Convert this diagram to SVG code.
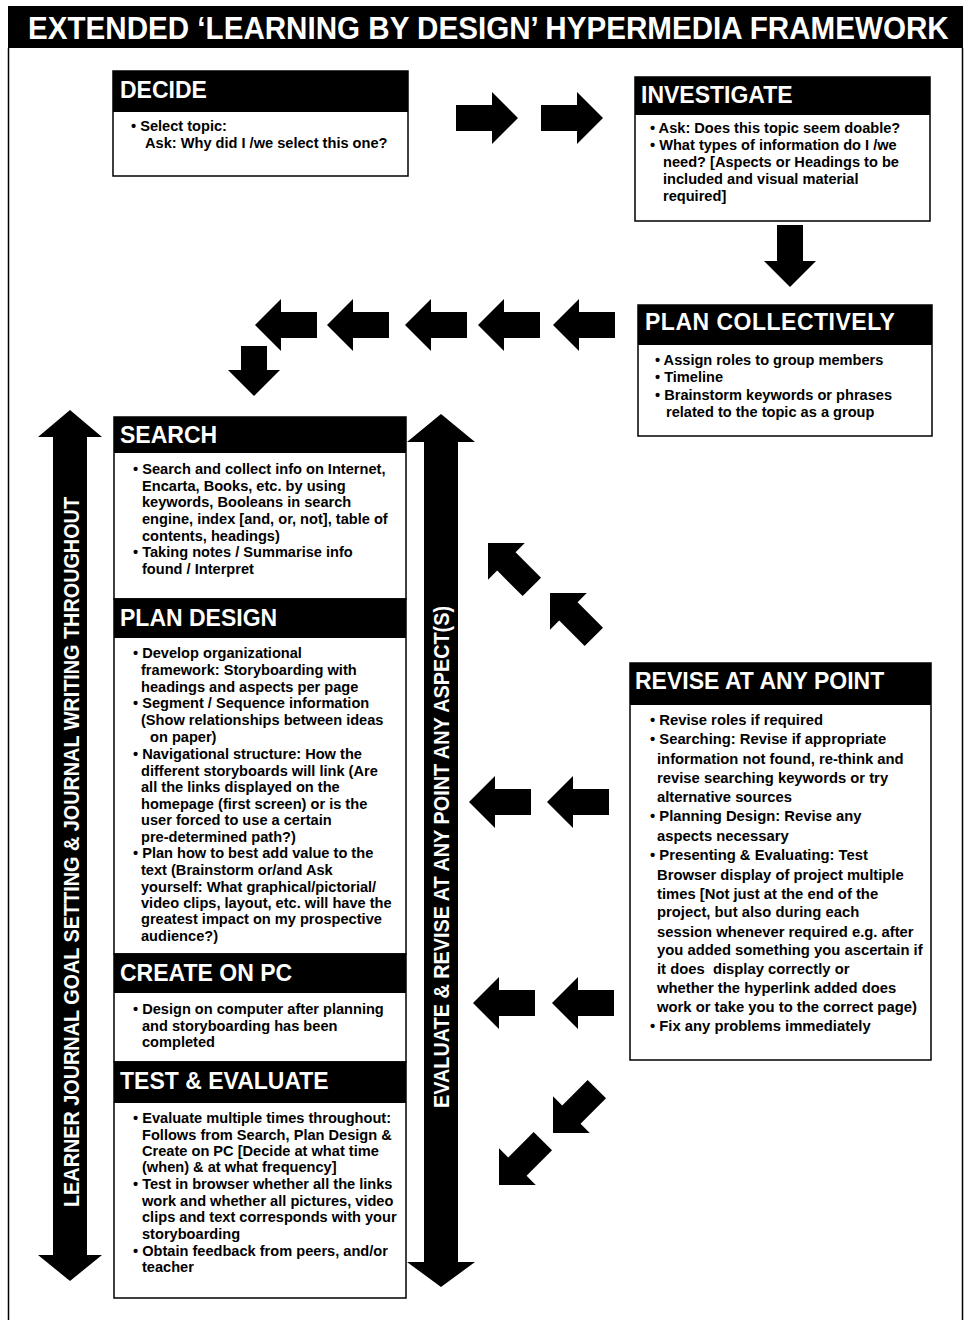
<svg xmlns="http://www.w3.org/2000/svg" width="965" height="1320" viewBox="0 0 965 1320">
<defs>
<style>
.box{fill:#fff;stroke:#000;stroke-width:1.5}
.hdr{fill:#000}
.ht{font-family:"Liberation Sans",Arial,sans-serif;font-weight:bold;font-size:23px;fill:#fff}
.bt{font-family:"Liberation Sans",Arial,sans-serif;font-weight:bold;font-size:14.6px;fill:#000}
.rt{font-family:"Liberation Sans",Arial,sans-serif;font-weight:bold;font-size:14.8px;fill:#000}
.vt{font-family:"Liberation Sans",Arial,sans-serif;font-weight:bold;font-size:22px;fill:#fff}
.arr{fill:#000}
</style>
<path id="ar" d="M0,0 L-26,-26 L-26,-13 L-62,-13 L-62,13 L-26,13 L-26,26 Z"/>
</defs>
<rect width="965" height="1320" fill="#fff"/>
<g id="frame">
<rect x="8" y="6" width="955" height="42" fill="#000"/>
<line x1="8.5" y1="48" x2="8.5" y2="1320" stroke="#000" stroke-width="1.5"/>
<line x1="962.5" y1="48" x2="962.5" y2="1320" stroke="#000" stroke-width="1.5"/>
<text transform="translate(28,39) scale(0.925,1)" x="0" y="0" font-family="Liberation Sans, Arial, sans-serif" font-weight="bold" font-size="32" fill="#fff">EXTENDED ‘LEARNING BY DESIGN’ HYPERMEDIA FRAMEWORK</text>
</g>
<g id="decide">
<rect class="box" x="113" y="71" width="295" height="105"/>
<rect class="hdr" x="113" y="71" width="295" height="41"/>
<text class="ht" x="120" y="98">DECIDE</text>
<text class="bt" x="131" y="131">• Select topic:</text>
<text class="bt" x="145" y="148">Ask: Why did I /we select this one?</text>
</g>
<g id="investigate">
<rect class="box" x="635" y="77" width="295" height="144"/>
<rect class="hdr" x="635" y="77" width="295" height="38"/>
<text class="ht" x="641" y="103">INVESTIGATE</text>
<text class="bt" x="650" y="133">• Ask: Does this topic seem doable?</text>
<text class="bt" x="650" y="150">• What types of information do I /we</text>
<text class="bt" x="663" y="167">need? [Aspects or Headings to be</text>
<text class="bt" x="663" y="184">included and visual material</text>
<text class="bt" x="663" y="201">required]</text>
</g>
<g id="plan-collectively">
<rect class="box" x="638" y="305" width="294" height="131"/>
<rect class="hdr" x="638" y="305" width="294" height="40"/>
<text class="ht" x="645" y="330" letter-spacing="0.5">PLAN COLLECTIVELY</text>
<text class="bt" x="655" y="365">• Assign roles to group members</text>
<text class="bt" x="655" y="382">• Timeline</text>
<text class="bt" x="655" y="400">• Brainstorm keywords or phrases</text>
<text class="bt" x="666" y="417">related to the topic as a group</text>
</g>
<g id="search">
<rect class="box" x="114" y="417" width="292" height="182"/>
<rect class="hdr" x="114" y="417" width="292" height="36"/>
<text class="ht" x="120" y="443">SEARCH</text>
<text class="bt" x="133" y="474">• Search and collect info on Internet,</text>
<text class="bt" x="142" y="491">Encarta, Books, etc. by using</text>
<text class="bt" x="142" y="507">keywords, Booleans in search</text>
<text class="bt" x="142" y="524">engine, index [and, or, not], table of</text>
<text class="bt" x="142" y="541">contents, headings)</text>
<text class="bt" x="133" y="557">• Taking notes / Summarise info</text>
<text class="bt" x="142" y="574">found / Interpret</text>
</g>
<g id="plan-design">
<rect class="box" x="114" y="599" width="292" height="355"/>
<rect class="hdr" x="114" y="599" width="292" height="39"/>
<text class="ht" x="120" y="626">PLAN DESIGN</text>
<text class="bt" x="133" y="658">• Develop organizational</text>
<text class="bt" x="141" y="675">framework: Storyboarding with</text>
<text class="bt" x="141" y="692">headings and aspects per page</text>
<text class="bt" x="133" y="708">• Segment / Sequence information</text>
<text class="bt" x="141" y="725">(Show relationships between ideas</text>
<text class="bt" x="150" y="742">on paper)</text>
<text class="bt" x="133" y="759">• Navigational structure: How the</text>
<text class="bt" x="141" y="776">different storyboards will link (Are</text>
<text class="bt" x="141" y="792">all the links displayed on the</text>
<text class="bt" x="141" y="809">homepage (first screen) or is the</text>
<text class="bt" x="141" y="825">user forced to use a certain</text>
<text class="bt" x="141" y="842">pre-determined path?)</text>
<text class="bt" x="133" y="858">• Plan how to best add value to the</text>
<text class="bt" x="141" y="875">text (Brainstorm or/and Ask</text>
<text class="bt" x="141" y="892">yourself: What graphical/pictorial/</text>
<text class="bt" x="141" y="908">video clips, layout, etc. will have the</text>
<text class="bt" x="141" y="924">greatest impact on my prospective</text>
<text class="bt" x="141" y="941">audience?)</text>
</g>
<g id="create-on-pc">
<rect class="box" x="114" y="954" width="292" height="108"/>
<rect class="hdr" x="114" y="954" width="292" height="39"/>
<text class="ht" x="120" y="981">CREATE ON PC</text>
<text class="bt" x="133" y="1014">• Design on computer after planning</text>
<text class="bt" x="142" y="1031">and storyboarding has been</text>
<text class="bt" x="142" y="1047">completed</text>
</g>
<g id="test-evaluate">
<rect class="box" x="114" y="1062" width="292" height="236"/>
<rect class="hdr" x="114" y="1062" width="292" height="41"/>
<text class="ht" x="120" y="1089">TEST &amp; EVALUATE</text>
<text class="bt" x="133" y="1123">• Evaluate multiple times throughout:</text>
<text class="bt" x="142" y="1140">Follows from Search, Plan Design &amp;</text>
<text class="bt" x="142" y="1156">Create on PC [Decide at what time</text>
<text class="bt" x="142" y="1172">(when) &amp; at what frequency]</text>
<text class="bt" x="133" y="1189">• Test in browser whether all the links</text>
<text class="bt" x="142" y="1206">work and whether all pictures, video</text>
<text class="bt" x="142" y="1222">clips and text corresponds with your</text>
<text class="bt" x="142" y="1239">storyboarding</text>
<text class="bt" x="133" y="1256">• Obtain feedback from peers, and/or</text>
<text class="bt" x="142" y="1272">teacher</text>
</g>
<g id="revise">
<rect class="box" x="630" y="663" width="301" height="397"/>
<rect class="hdr" x="630" y="663" width="301" height="42"/>
<text class="ht" x="635" y="689">REVISE AT ANY POINT</text>
<text class="rt" x="650" y="725">• Revise roles if required</text>
<text class="rt" x="650" y="744">• Searching: Revise if appropriate</text>
<text class="rt" x="657" y="764">information not found, re-think and</text>
<text class="rt" x="657" y="783">revise searching keywords or try</text>
<text class="rt" x="657" y="802">alternative sources</text>
<text class="rt" x="650" y="821">• Planning Design: Revise any</text>
<text class="rt" x="657" y="841">aspects necessary</text>
<text class="rt" x="650" y="860">• Presenting &amp; Evaluating: Test</text>
<text class="rt" x="657" y="880">Browser display of project multiple</text>
<text class="rt" x="657" y="899">times [Not just at the end of the</text>
<text class="rt" x="657" y="917">project, but also during each</text>
<text class="rt" x="657" y="937">session whenever required e.g. after</text>
<text class="rt" x="657" y="955">you added something you ascertain if</text>
<text class="rt" x="657" y="974" xml:space="preserve">it does  display correctly or</text>
<text class="rt" x="657" y="993">whether the hyperlink added does</text>
<text class="rt" x="657" y="1012">work or take you to the correct page)</text>
<text class="rt" x="650" y="1031">• Fix any problems immediately</text>
</g>
<g id="journal-arrow">
<polygon class="arr" points="70,410 102,437 87,437 87,1255 102,1255 70,1281 38,1255 53,1255 53,437 38,437"/>
<text class="vt" text-anchor="middle" transform="translate(79,852) rotate(-90)" textLength="710" lengthAdjust="spacingAndGlyphs">LEARNER JOURNAL GOAL SETTING &amp; JOURNAL WRITING THROUGHOUT</text>
</g>
<g id="evaluate-arrow">
<polygon class="arr" points="441,414 475,442 458,442 458,1262 475,1262 441,1287 407,1262 424,1262 424,442 407,442"/>
<text class="vt" text-anchor="middle" transform="translate(449,857) rotate(-90)" textLength="502" lengthAdjust="spacingAndGlyphs">EVALUATE &amp; REVISE AT ANY POINT ANY ASPECT(S)</text>
</g>
<g id="connectors" class="arr">
<use href="#ar" transform="translate(518,118)"/>
<use href="#ar" transform="translate(603,118)"/>
<use href="#ar" transform="translate(790,287) rotate(90)"/>
<use href="#ar" transform="translate(553,325) rotate(180)"/>
<use href="#ar" transform="translate(478,325) rotate(180)"/>
<use href="#ar" transform="translate(405,325) rotate(180)"/>
<use href="#ar" transform="translate(327,325) rotate(180)"/>
<use href="#ar" transform="translate(255,325) rotate(180)"/>
<path d="M254,396 L228,370 L241,370 L241,346 L267,346 L267,370 L280,370 Z"/>
<use href="#ar" transform="translate(488,543) rotate(-135)"/>
<use href="#ar" transform="translate(550,593) rotate(-135)"/>
<use href="#ar" transform="translate(469,802) rotate(180)"/>
<use href="#ar" transform="translate(547,802) rotate(180)"/>
<use href="#ar" transform="translate(473,1003) rotate(180)"/>
<use href="#ar" transform="translate(552,1003) rotate(180)"/>
<use href="#ar" transform="translate(553,1133) rotate(135)"/>
<use href="#ar" transform="translate(499,1185) rotate(135)"/>
</g>
</svg>
